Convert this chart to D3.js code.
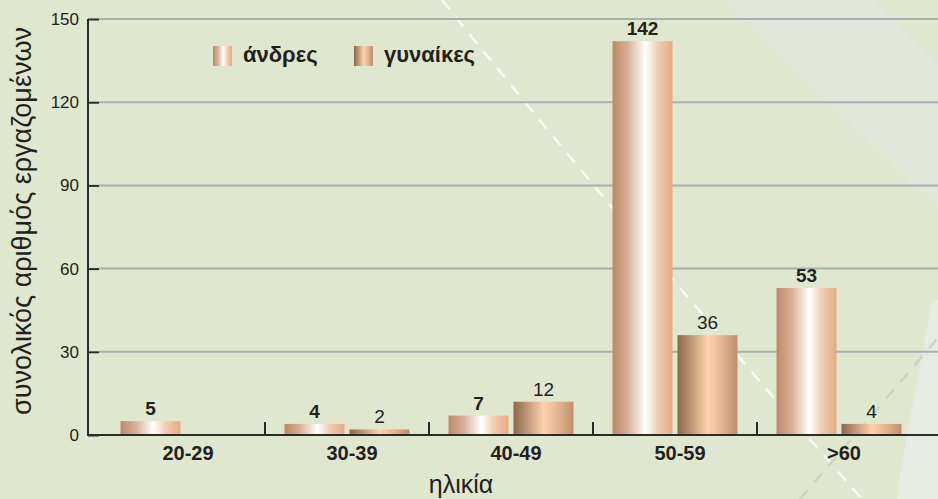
<!DOCTYPE html>
<html><head><meta charset="utf-8">
<script src="https://cdn.jsdelivr.net/npm/d3@7"></script>
<style>
html,body{margin:0;padding:0;background:#e0e7cf;}
svg{display:block;font-family:"Liberation Sans",Arial,Helvetica,sans-serif;}
</style></head>
<body>
<svg id="chart" width="938" height="499"></svg>
<script>
const categories = ["20-29", "30-39", "40-49", "50-59", ">60"];
const men = [5, 4, 7, 142, 53];
const women = [null, 2, 12, 36, 4];
const seriesNames = ["άνδρες", "γυναίκες"];
const yTicks = [0, 30, 60, 90, 120, 150];
const xTitle = "ηλικία";
const yTitle = "συνολικός αριθμός εργαζομένων";

const W = 938, H = 499;
const svg = d3.select("#chart");
const defs = svg.append("defs");

function grad(id, stops) {
  const g = defs.append("linearGradient").attr("id", id)
    .attr("x1", "0%").attr("x2", "100%").attr("y1", "0%").attr("y2", "0%");
  stops.forEach(s => g.append("stop").attr("offset", s[0]).attr("stop-color", s[1]));
}
grad("gMen", [[0, "#bd8a64"], [0.25, "#d6b095"], [0.55, "#ffffff"], [0.75, "#f2cfb1"], [1, "#e5aa7e"]]);
grad("gWomen", [[0, "#8c6649"], [0.5, "#fcd1ab"], [0.58, "#f8caa2"], [1, "#c0906c"]]);

// background
svg.append("rect").attr("width", W).attr("height", H).attr("fill", "#e0e7cf");
svg.append("path").attr("d", "M725,0 L873,0 L938,65 L938,208 Z").attr("fill", "#e1e7da");
svg.append("path").attr("d", "M938,300 L932,300 C918,380 905,440 897,499 L938,499 Z").attr("fill", "#e7ece3");
svg.append("path").attr("d", "M442,0 Q635,240 862,499")
  .attr("fill", "none").attr("stroke", "#ffffff").attr("stroke-opacity", 0.8)
  .attr("stroke-width", 2.5).attr("stroke-dasharray", "12,10");
svg.append("path").attr("d", "M800,499 L938,338")
  .attr("fill", "none").attr("stroke", "#cbd5c4").attr("stroke-width", 2.5).attr("stroke-dasharray", "12,10");

// scales
const y = d3.scaleLinear().domain([0, 150]).range([435, 19]);
const x0 = d3.scaleBand().domain(categories).range([101, 921]).padding(0);
const x1 = d3.scaleBand().domain(seriesNames).range([19.5, x0.bandwidth() - 19.5]).paddingInner(5 / 65);

// gridlines
svg.append("g").selectAll("line").data(yTicks.filter(t => t > 0)).join("line")
  .attr("x1", 99).attr("x2", W).attr("y1", d => y(d)).attr("y2", d => y(d))
  .attr("stroke", "#a3b0b6").attr("stroke-width", 2);

// bars
const rows = categories.map((c, i) => ({ c, vals: [men[i], women[i]] }));
const grp = svg.append("g").selectAll("g").data(rows).join("g")
  .attr("transform", d => `translate(${x0(d.c)},0)`);
grp.selectAll("rect").data(d => d.vals.map((v, j) => ({ v, s: seriesNames[j], j })).filter(e => e.v != null)).join("rect")
  .attr("x", e => x1(e.s)).attr("width", x1.bandwidth())
  .attr("y", e => y(e.v)).attr("height", e => y(0) - y(e.v))
  .attr("fill", e => e.j === 0 ? "url(#gMen)" : "url(#gWomen)");
grp.selectAll("text").data(d => d.vals.map((v, j) => ({ v, s: seriesNames[j], j })).filter(e => e.v != null)).join("text")
  .attr("x", e => x1(e.s) + x1.bandwidth() / 2).attr("y", e => y(e.v) - 6)
  .attr("text-anchor", "middle").attr("font-size", 19)
  .attr("font-weight", e => e.j === 0 ? "bold" : "normal")
  .attr("fill", "#231f20").text(e => e.v);

// y axis
const yAxis = svg.append("g").attr("transform", "translate(99,0)")
  .call(d3.axisLeft(y).tickValues(yTicks).tickSize(11).tickPadding(9));
yAxis.select(".domain").remove();
yAxis.selectAll(".tick line").attr("stroke", "#2b2b2b").attr("stroke-width", 2);
yAxis.selectAll(".tick text").attr("font-size", 17).attr("fill", "#231f20")
  .attr("font-family", "Liberation Sans, Arial, sans-serif");
svg.append("line").attr("x1", 88).attr("x2", 88).attr("y1", y(150)).attr("y2", y(0) + 1)
  .attr("stroke", "#2b2b2b").attr("stroke-width", 2);

// x axis
svg.append("line").attr("x1", 87).attr("x2", W).attr("y1", y(0)).attr("y2", y(0))
  .attr("stroke", "#2b2b2b").attr("stroke-width", 2);
svg.append("g").selectAll("line").data(categories.slice(1)).join("line")
  .attr("x1", d => x0(d)).attr("x2", d => x0(d)).attr("y1", y(0) - 13).attr("y2", y(0))
  .attr("stroke", "#2b2b2b").attr("stroke-width", 2);
const xAxis = svg.append("g").attr("transform", `translate(5,${y(0)})`)
  .call(d3.axisBottom(x0).tickSize(0).tickPadding(11));
xAxis.select(".domain").remove();
xAxis.selectAll(".tick text").attr("font-size", 20).attr("font-weight", "bold").attr("fill", "#231f20")
  .attr("font-family", "Liberation Sans, Arial, sans-serif");

// titles
svg.append("text").attr("x", 461).attr("y", 493).attr("text-anchor", "middle")
  .attr("font-size", 25).attr("fill", "#231f20").text(xTitle);
svg.append("text").attr("transform", "translate(31,221) rotate(-90)").attr("text-anchor", "middle")
  .attr("font-size", 27).attr("fill", "#231f20").text(yTitle);

// legend
const leg = svg.append("g").selectAll("g").data(seriesNames).join("g")
  .attr("transform", (d, i) => `translate(${[213, 354][i]},46)`);
leg.append("rect").attr("width", 19).attr("height", 20)
  .attr("fill", (d, i) => i === 0 ? "url(#gMen)" : "url(#gWomen)");
leg.append("text").attr("x", 30).attr("y", 16).attr("font-size", 22).attr("font-weight", "bold")
  .attr("fill", "#231f20").text(d => d);
</script>
</body></html>
